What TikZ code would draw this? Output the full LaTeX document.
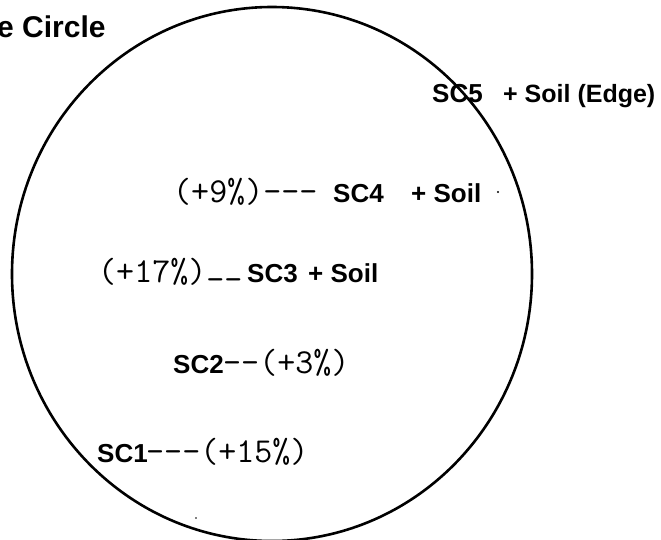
\documentclass[tikz,border=0pt]{standalone}
\usepackage{fontspec}
\setmainfont{Liberation Sans}
\tikzset{
  lbl/.style={inner sep=0pt, anchor=base west, font=\fontsize{26}{30}\selectfont\bfseries},
  lblsm/.style={inner sep=0pt, anchor=base west, font=\fontsize{25}{30}\selectfont\bfseries},
  pct/.style={inner sep=0pt, anchor=base west, font=\fontsize{35}{38}\selectfont\ttfamily},
  ttl/.style={inner sep=0pt, anchor=base west, font=\fontsize{30}{34}\selectfont\bfseries},
  ring/.style={line width=2.6pt, draw=black},
  speck/.style={fill=black, draw=none}
}
\begin{document}
\begin{tikzpicture}[x=1pt,y=-1pt]
\useasboundingbox (0,0) rectangle (661,539);
\fill[white] (0,0) rectangle (661,539);
% circle
\draw[ring] (272,274) ellipse [x radius=260, y radius=267];
% title
\node[ttl] (title) at (-3,37) {e Circle};
% SC5
\node[lbl] (sc5) at (432,102) {SC5};
\node[lblsm] (sc5s) at (503,102) {+ Soil (Edge)};
% SC4
\node[pct] (p9) at (173,202) {(+9\%)-{}-{}-};
\node[lbl] (sc4) at (333,202) {SC4};
\node[lbl] (sc4s) at (411,202) {+ Soil};
% SC3
\node[pct] (p17) at (98,282) {(+17\%)\raisebox{-0.24em}{-{}-}};
\node[lbl] (sc3) at (247,282) {SC3};
\node[lbl] (sc3s) at (308,282) {+ Soil};
% SC2
\node[lbl] (sc2) at (173,373) {SC2};
\node[pct] (p3) at (223,373) {-{}-(+3\%)};
% SC1
\node[lbl] (sc1) at (97,462) {SC1};
\node[pct] (p15) at (146,462) {-{}-{}-(+15\%)};
% specks
\fill[speck] (498,192) circle [radius=1.1];
\fill[speck] (196,518) circle [radius=0.9];
\end{tikzpicture}
\end{document}
